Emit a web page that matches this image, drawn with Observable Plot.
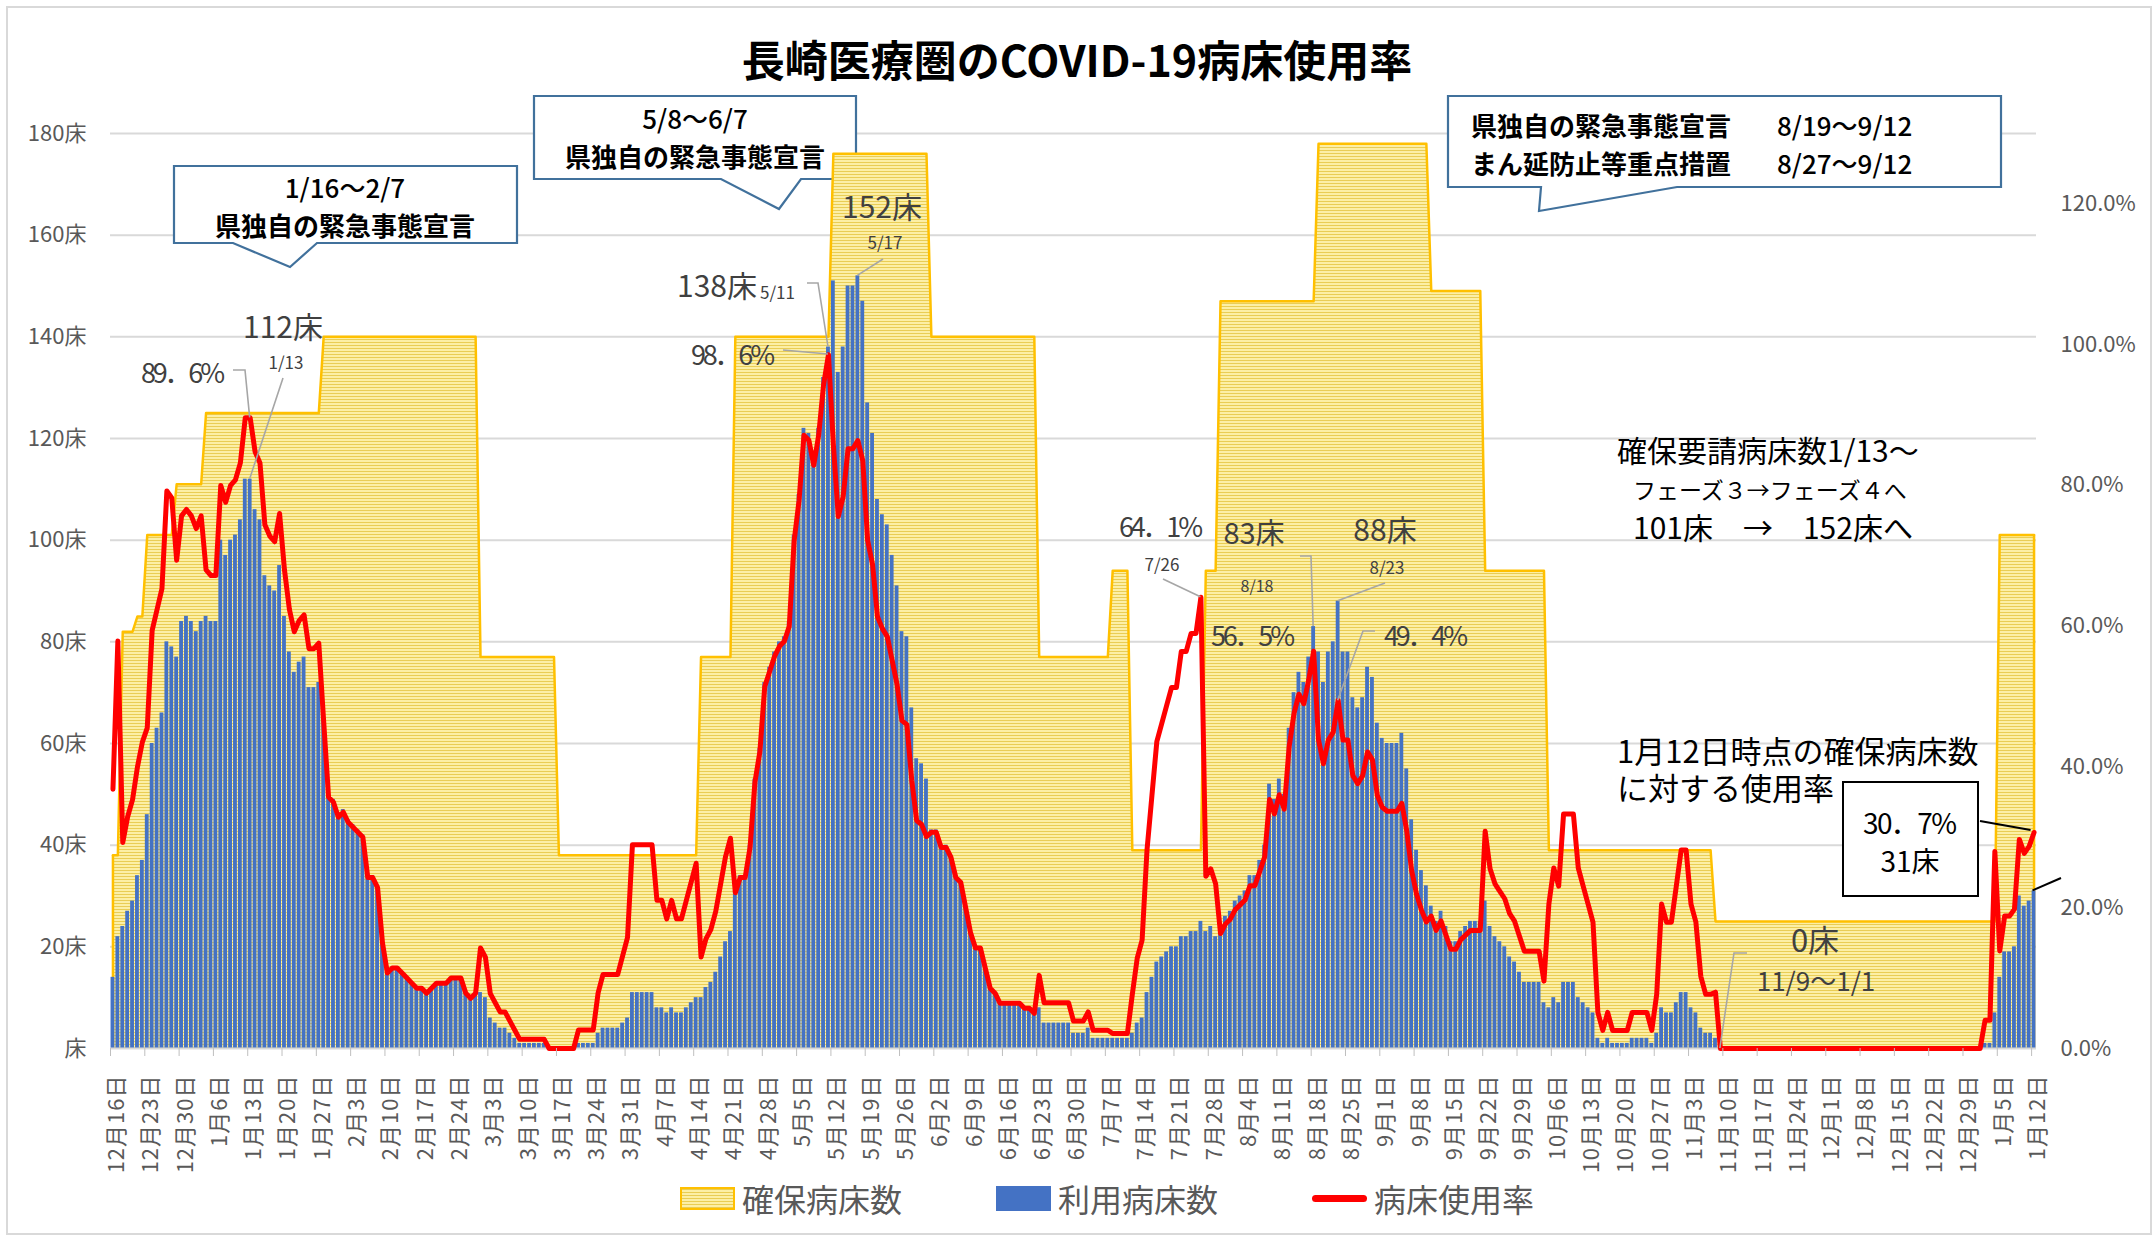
<!DOCTYPE html>
<html lang="ja">
<head>
<meta charset="utf-8">
<script src="https://cdn.jsdelivr.net/npm/d3@7"></script>
<script src="https://cdn.jsdelivr.net/npm/@observablehq/plot@0.6"></script>
<style>
  html, body { margin:0; padding:0; background:#fff; }
  #wrap { position:relative; width:2154px; height:1239px; overflow:hidden; font-family:"Noto Sans CJK JP","Noto Sans",sans-serif; }
  #frame { position:absolute; left:6px; top:6px; width:2146px; height:1229px; border:2px solid #d9d9d9; box-sizing:border-box; pointer-events:none; }
  #title { position:absolute; left:0; top:34px; width:2154px; text-align:center; font-size:43px; font-weight:700; line-height:48px; color:#000; }
  #chart { position:absolute; left:0; top:0; }
  .lg { position:absolute; top:1176px; font-size:32px; line-height:44px; color:#595959; white-space:nowrap; }
  .sw { position:absolute; box-sizing:border-box; }
</style>
</head>
<body>
<div id="wrap">
  <div id="frame"></div>
  <div id="chart"></div>
  <div id="title">長崎医療圏のCOVID-19病床使用率</div>
  <div class="sw" style="left:680px;top:1187px;width:55px;height:23px;border:2px solid #FFC000;background:repeating-linear-gradient(to bottom,#E9CD55 0px,#E9CD55 1px,#FCEFA6 1px,#FCEFA6 3px);"></div>
  <div class="lg" style="left:742px;">確保病床数</div>
  <div class="sw" style="left:996px;top:1186px;width:55px;height:25px;background:#4472C4;"></div>
  <div class="lg" style="left:1058px;">利用病床数</div>
  <div class="sw" style="left:1312px;top:1195px;width:55px;height:7px;background:#FF0000;border-radius:4px;"></div>
  <div class="lg" style="left:1374px;">病床使用率</div>
</div>
<script>
// ---------------- DATA ----------------
const startDate = "2020-12-16";

// x-axis tick labels (every 7 days from 12/16/2020 to 1/12/2022)
const tickLabels = [
  "12月16日","12月23日","12月30日","1月6日","1月13日","1月20日","1月27日",
  "2月3日","2月10日","2月17日","2月24日","3月3日","3月10日","3月17日",
  "3月24日","3月31日","4月7日","4月14日","4月21日","4月28日","5月5日",
  "5月12日","5月19日","5月26日","6月2日","6月9日","6月16日","6月23日",
  "6月30日","7月7日","7月14日","7月21日","7月28日","8月4日","8月11日",
  "8月18日","8月25日","9月1日","9月8日","9月15日","9月22日","9月29日",
  "10月6日","10月13日","10月20日","10月27日","11月3日","11月10日","11月17日",
  "11月24日","12月1日","12月8日","12月15日","12月22日","12月29日","1月5日","1月12日"
];

// 利用病床数 (beds in use), one value per day starting 2020-12-16
const usedBeds = [
  14, 22, 24, 27, 29, 34, 37,
  46, 60, 63, 66, 80, 79, 77,
  84, 85, 84, 82, 84, 85, 84,
  84, 100, 97, 100, 101, 104, 112,
  112, 106, 104, 93, 91, 90, 95,
  85, 78, 74, 76, 77, 71, 71,
  72, 65, 50, 49, 46, 47, 45,
  44, 43, 42, 34, 34, 32, 21,
  15, 16, 16, 15, 14, 13, 12,
  12, 11, 12, 13, 13, 13, 14,
  14, 14, 11, 10, 11, 11, 10,
  6, 5, 4, 4, 3, 2, 1,
  1, 1, 1, 1, 1, 0, 0,
  0, 0, 0, 0, 1, 1, 1,
  1, 3, 4, 4, 4, 4, 5,
  6, 11, 11, 11, 11, 11, 8,
  8, 7, 8, 7, 7, 8, 9,
  10, 10, 12, 13, 15, 18, 21,
  23, 31, 34, 34, 40, 53, 59,
  72, 75, 78, 80, 81, 84, 101,
  109, 122, 121, 116, 122, 132, 138,
  151, 133, 138, 150, 150, 152, 147,
  127, 121, 108, 105, 103, 97, 91,
  82, 81, 67, 57, 56, 53, 43,
  43, 40, 40, 38, 34, 33, 28,
  23, 20, 20, 16, 12, 11, 9,
  9, 9, 9, 9, 8, 8, 7,
  8, 5, 5, 5, 5, 5, 5,
  3, 3, 3, 4, 2, 2, 2,
  2, 2, 2, 2, 2, 3, 5,
  6, 11, 14, 17, 18, 19, 20,
  20, 22, 22, 23, 23, 25, 23,
  24, 22, 24, 26, 27, 29, 30,
  31, 34, 34, 37, 40, 52, 49,
  53, 50, 63, 70, 74, 72, 77,
  83, 78, 72, 78, 80, 88, 78,
  78, 69, 67, 69, 75, 73, 64,
  61, 60, 60, 60, 62, 55, 45,
  39, 35, 32, 28, 25, 27, 24,
  21, 21, 23, 24, 25, 25, 25,
  29, 24, 22, 21, 20, 18, 17,
  15, 13, 13, 13, 13, 9, 8,
  10, 9, 13, 13, 13, 10, 9,
  8, 7, 2, 1, 2, 1, 1,
  1, 1, 2, 2, 2, 2, 1,
  3, 8, 7, 7, 9, 11, 11,
  8, 7, 4, 3, 3, 2, 0,
  0, 0, 0, 0, 0, 0, 0,
  0, 0, 0, 0, 0, 0, 0,
  0, 0, 0, 0, 0, 0, 0,
  0, 0, 0, 0, 0, 0, 0,
  0, 0, 0, 0, 0, 0, 0,
  0, 0, 0, 0, 0, 0, 0,
  0, 0, 0, 0, 0, 0, 0,
  0, 0, 0, 0, 1, 1, 7,
  14, 19, 19, 20, 30, 28, 29,
  31
];

// 確保病床数 (secured beds): date from which each value applies
const securedSteps = [
  ["2020-12-16", 38], ["2020-12-18", 82], ["2020-12-21", 85], ["2020-12-23", 101],
  ["2020-12-29", 111], ["2021-01-04", 125], ["2021-01-28", 140], ["2021-03-01", 77],
  ["2021-03-17", 38], ["2021-04-15", 77], ["2021-04-22", 140], ["2021-05-12", 176],
  ["2021-06-01", 140], ["2021-06-23", 77], ["2021-07-08", 94], ["2021-07-12", 39],
  ["2021-07-27", 94], ["2021-07-30", 147], ["2021-08-19", 178], ["2021-09-11", 149],
  ["2021-09-22", 94], ["2021-10-05", 39], ["2021-11-08", 25], ["2022-01-05", 101]
];

const bedTicks = [0, 20, 40, 60, 80, 100, 120, 140, 160, 180];
const rateTicks = [0, 20, 40, 60, 80, 100, 120];
const RATE_MAX = 130; // right axis max (%)

// ---------------- BUILD ----------------
const FONT = '"Noto Sans CJK JP","Noto Sans",sans-serif';
const start = new Date(startDate + "T00:00:00Z");
const idx = s => d3.utcDay.count(start, new Date(s + "T00:00:00Z"));
const stepIdx = securedSteps.map(([d, v]) => [idx(d), v]);
const secAt = i => { let v = stepIdx[0][1]; for (const [k, val] of stepIdx) if (k <= i) v = val; return v; };
const rows = usedBeds.map((u, i) => { const sec = secAt(i); return {i, used: u, sec, rate: u / sec * 100}; });
const R = 180 / RATE_MAX;
const tickIdx = tickLabels.map((_, k) => k * 7);
const N = usedBeds.length;

const plot = Plot.plot({
  width: 2154, height: 1160,
  marginLeft: 110, marginRight: 118, marginTop: 133, marginBottom: 112,
  style: {fontFamily: FONT, background: "transparent", overflow: "visible"},
  x: {domain: [-0.5, N - 0.5]},
  y: {domain: [0, 180]},
  marks: [
    Plot.gridY(bedTicks.filter(d => d > 0), {stroke: "#d9d9d9", strokeOpacity: 1, strokeWidth: 2}),
    Plot.areaY(rows, {x: "i", y: "sec", fill: "url(#yStripe)"}),
    Plot.ruleX([rows[0], rows[N - 1]], {x: "i", y1: 0, y2: "sec", stroke: "#FFC000", strokeWidth: 2.5}),
    Plot.lineY(rows, {x: "i", y: "sec", stroke: "#FFC000", strokeWidth: 2.5}),
    Plot.rectY(rows, {x1: d => d.i - 0.39, x2: d => d.i + 0.39, y: "used", fill: "#4472C4"}),
    Plot.ruleY([0], {stroke: "#d9d9d9", strokeWidth: 2}),
    Plot.lineY(rows, {x: "i", y: d => d.rate * R, stroke: "#FF0000", strokeWidth: 5, strokeLinejoin: "round"}),
    Plot.axisY(bedTicks, {anchor: "left", tickSize: 0, tickPadding: 24, tickFormat: d => d === 0 ? "床" : d + "床", fontSize: 22, color: "#595959", label: null}),
    Plot.axisY(rateTicks.map(p => p * R), {anchor: "right", tickSize: 0, tickPadding: 24, tickFormat: v => (v / R).toFixed(1) + "%", fontSize: 22, color: "#595959", label: null}),
    Plot.axisX(tickIdx.map(i => i - 0.5), {tickSize: 8, tickFormat: () => "", stroke: "#bfbfbf", label: null}),
    Plot.axisX(tickIdx.map(i => i + 0.8), {tickSize: 0, tickRotate: -90, tickPadding: 26, tickFormat: v => tickLabels[Math.round((v - 0.8) / 7)], fontSize: 22, color: "#595959", label: null})
  ]
});
document.getElementById("chart").appendChild(plot);

const svg = d3.select(plot);
// stripe pattern for secured-bed area
const defs = svg.insert("defs", ":first-child");
const pat = defs.append("pattern").attr("id", "yStripe").attr("patternUnits", "userSpaceOnUse").attr("width", 8).attr("height", 3);
pat.append("rect").attr("width", 8).attr("height", 3).attr("fill", "#FCEFA6");
pat.append("rect").attr("width", 8).attr("height", 1).attr("fill", "#E9CD55");

// letter spacing for x tick labels
svg.selectAll('g[aria-label="x-axis tick label"] text').attr("letter-spacing", "1px");

const sxs = plot.scale("x"), sys = plot.scale("y");
const sx = v => sxs.apply(v), sy = v => sys.apply(v);

// callouts (behind data, above grid)
const gridNode = plot.querySelector('g[aria-label="y-grid"]');
const gC = d3.create("svg:g").attr("font-family", FONT);
if (gridNode) gridNode.after(gC.node()); else svg.node().appendChild(gC.node());
const callout = pts => gC.append("path").attr("d", d3.line()(pts) + "Z").attr("fill", "#fff").attr("stroke", "#41719C").attr("stroke-width", 2.2);
const ctext = (g, x, y, s, size, o = {}) => {
  const t = g.append("text").attr("x", x).attr("y", y)
    .attr("font-size", size).attr("text-anchor", o.anchor || "middle").attr("dominant-baseline", "central")
    .attr("font-weight", o.weight || 400).attr("fill", o.fill || "#404040").text(s);
  if (o.len) t.attr("textLength", o.len).attr("lengthAdjust", "spacing");
  return t;
};

callout([[174,166],[517,166],[517,243],[317,243],[290,267],[233,243],[174,243]]);
ctext(gC, 345, 186, "1/16〜2/7", 26, {weight: 500, fill: "#000"});
ctext(gC, 345, 224, "県独自の緊急事態宣言", 26, {weight: 700, fill: "#000"});
callout([[534,96],[856,96],[856,179],[801,179],[779,209],[721,179],[534,179]]);
ctext(gC, 695, 117, "5/8〜6/7", 26, {weight: 500, fill: "#000"});
ctext(gC, 695, 155, "県独自の緊急事態宣言", 26, {weight: 700, fill: "#000"});
callout([[1448,96],[2001,96],[2001,187],[1677,187],[1539,211],[1541,187],[1448,187]]);
ctext(gC, 1471, 124, "県独自の緊急事態宣言", 26, {weight: 700, fill: "#000", anchor: "start"});
ctext(gC, 1777, 124, "8/19〜9/12", 26, {weight: 500, fill: "#000", anchor: "start"});
ctext(gC, 1471, 162, "まん延防止等重点措置", 26, {weight: 700, fill: "#000", anchor: "start"});
ctext(gC, 1777, 162, "8/27〜9/12", 26, {weight: 500, fill: "#000", anchor: "start"});

// annotations on top
const gA = svg.append("g").attr("font-family", FONT);
const lead = (pts, color = "#a6a6a6", w = 1.6) => gA.append("path").attr("d", d3.line()(pts)).attr("fill", "none").attr("stroke", color).attr("stroke-width", w);

lead([[233,370],[245,370],[sx(28), sy(89.6 * R)]]);
lead([[283,378],[sx(28), sy(112)]]);
lead([[807,283],[818,283],[sx(146), sy(138)]]);
lead([[783,350],[sx(146), sy(98.6 * R)]]);
lead([[883,259],[sx(152), sy(152)]]);
lead([[1163,579],[sx(222), sy(64.1 * R)]]);
lead([[1300,556],[1311,556],[sx(245), sy(83)]]);
lead([[1385,583],[sx(250), sy(88)]]);
lead([[1375,631],[1363,631],[sx(250), sy(49.4 * R)]]);
lead([[1747,953],[1734,953],[sx(328), sy(0)]]);

ctext(gA, 283, 325, "112床", 30);
ctext(gA, 286, 361, "1/13", 17);
ctext(gA, 183, 371, "89．6%", 27, {len: 84});
ctext(gA, 757, 284, "138床", 30, {anchor: "end"});
ctext(gA, 760, 291, "5/11", 17, {anchor: "start"});
ctext(gA, 733, 353, "98．6%", 27, {len: 84});
ctext(gA, 882, 205, "152床", 30);
ctext(gA, 885, 241, "5/17", 17);
ctext(gA, 1161, 525, "64．1%", 27, {len: 84});
ctext(gA, 1162, 563, "7/26", 17);
ctext(gA, 1254, 531, "83床", 29);
ctext(gA, 1257, 585, "8/18", 16);
ctext(gA, 1253, 634, "56．5%", 27, {len: 84});
ctext(gA, 1385, 528, "88床", 30);
ctext(gA, 1387, 566, "8/23", 17);
ctext(gA, 1426, 634, "49．4%", 27, {len: 84});
ctext(gA, 1815, 938, "0床", 31);
ctext(gA, 1816, 979, "11/9〜1/1", 26);

ctext(gA, 1617, 449, "確保要請病床数1/13〜", 30, {anchor: "start", fill: "#000"});
ctext(gA, 1633, 489, "フェーズ３→フェーズ４へ", 23, {anchor: "start", fill: "#000"});
ctext(gA, 1633, 526, "101床　→　152床へ", 30, {anchor: "start", fill: "#000"});
ctext(gA, 1617, 749, "1月12日時点の確保病床数", 31, {anchor: "start", fill: "#000"});
ctext(gA, 1617, 786, "に対する使用率", 31, {anchor: "start", fill: "#000"});

gA.append("rect").attr("x", 1843).attr("y", 782).attr("width", 135).attr("height", 114).attr("fill", "#fff").attr("stroke", "#000").attr("stroke-width", 2);
ctext(gA, 1910, 822, "30．7%", 28, {fill: "#000", len: 94});
ctext(gA, 1910, 860, "31床", 28, {fill: "#000"});
lead([[1980,821],[sx(N - 1) - 3, sy(rows[N - 1].rate * R) - 2]], "#000", 2);
lead([[sx(N - 1) - 1, sy(rows[N - 1].used)], [2061, 878]], "#000", 2);
</script>
</body>
</html>
